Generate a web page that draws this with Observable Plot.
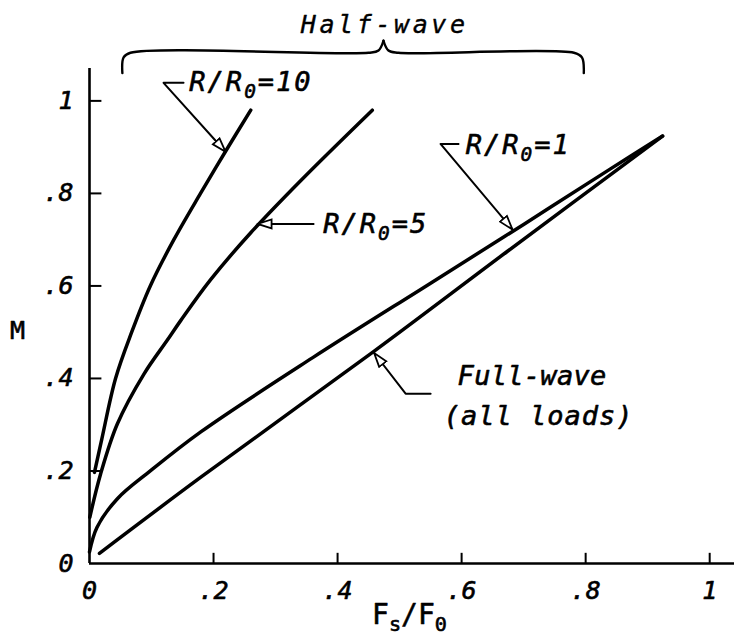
<!DOCTYPE html>
<html>
<head>
<meta charset="utf-8">
<script src="https://cdn.jsdelivr.net/npm/d3@7"></script>
<script src="https://cdn.jsdelivr.net/npm/@observablehq/plot@0.6"></script>
<style>
  body { margin: 0; background: #fff; }
  #chart svg { display: block; }
</style>
</head>
<body>
<div id="chart"></div>
<script>
// Ripple factor M versus Fs/F0 for half-wave (several load ratios) and full-wave rectification.

const xTicks = [0, 0.2, 0.4, 0.6, 0.8, 1];
const xTickLabels = ["0", ".2", ".4", ".6", ".8", "1"];
const yTicks = [0, 0.2, 0.4, 0.6, 0.8, 1];
const yTickLabels = ["0", ".2", ".4", ".6", ".8", "1"];

// [Fs/F0, M] pairs per curve
const halfWaveR10 = [[0.008, 0.197], [0.02, 0.27], [0.042, 0.40], [0.068, 0.50], [0.098, 0.60],
  [0.136, 0.70], [0.179, 0.80], [0.219, 0.89], [0.26, 0.98]];
const halfWaveR5 = [[0.0005, 0.10], [0.018, 0.194], [0.045, 0.302], [0.088, 0.41], [0.125, 0.482],
  [0.147, 0.525], [0.195, 0.613], [0.26, 0.715], [0.34, 0.827], [0.456, 0.98]];
const halfWaveR1 = [[0.0, 0.025], [0.012, 0.078], [0.045, 0.14], [0.098, 0.2], [0.18, 0.285],
  [0.36, 0.445], [0.55, 0.606], [0.7, 0.733], [0.84, 0.853], [0.924, 0.924]];
const fullWave = [[0.016, 0.022], [0.179, 0.186], [0.458, 0.458], [0.674, 0.675], [0.924, 0.924]];

const curveNames = ["R/R0=10", "R/R0=5", "R/R0=1", "Full-wave"];
const curveData = [halfWaveR10, halfWaveR5, halfWaveR1, fullWave];

// Callout labels: text, anchor x, anchor y
const labelTexts = ["R/R_0=10", "R/R_0=5", "R/R_0=1", "Full-wave", "(all loads)"];
const labelX = [0.161, 0.377, 0.6065, 0.5935, 0.571];
const labelY = [1.039, 0.734, 0.903, 0.404, 0.3175];
const labelSpacing = [2, 2, 2, 0.3, 1];

// Leader lines from each label to its curve (last point is the arrow tip)
const leaderR10 = [[0.1516, 1.039], [0.1194, 1.039], [0.2194, 0.89]];
const leaderR5 = [[0.3613, 0.734], [0.271, 0.734]];
const leaderR1 = [[0.595, 0.907], [0.566, 0.907], [0.682, 0.722]];
const leaderFull = [[0.55, 0.367], [0.5097, 0.367], [0.459, 0.455]];

// Brace spanning the half-wave curves
const braceLeft = [[0.053, 1.06], [0.055, 1.094], [0.066, 1.104], [0.45, 1.104], [0.466, 1.109], [0.474, 1.13]];
const braceRight = [[0.474, 1.13], [0.482, 1.109], [0.498, 1.104], [0.781, 1.104], [0.794, 1.094], [0.797, 1.06]];
const braceTitle = "Half-wave";

const curveRows = curveData.flatMap((pts, k) => pts.map(([x, y]) => ({series: curveNames[k], x, y})));
const leaderRows = [leaderR10, leaderR5, leaderR1, leaderFull]
  .flatMap((pts, k) => pts.map(([x, y]) => ({id: k, x, y})));
const braceRows = [braceLeft, braceRight].flatMap((pts, k) => pts.map(([x, y]) => ({id: k, x, y})));
const labels = labelTexts.map((t, i) => ({text: t, x: labelX[i], y: labelY[i]}));

const INK = "#000000";
const LEADER_INK = "#010101";
// a thin outline thickens the lettering to a plotter-pen weight
const pen = {stroke: INK, strokeWidth: 0.6, fill: INK};

const chart = Plot.plot({
  width: 734,
  height: 636,
  marginLeft: 89,
  marginRight: 0,
  marginTop: 68,
  marginBottom: 73,
  x: {domain: [0, 1.04], axis: null},
  y: {domain: [0, 1.07], axis: null},
  style: {fontFamily: "'DejaVu Sans Mono', monospace", background: "white", color: "black"},
  marks: [
    // frame
    Plot.ruleX([0], {y1: 0, y2: 1.07, stroke: INK, strokeWidth: 2.6}),
    Plot.ruleY([0], {x1: 0, x2: 1.04, stroke: INK, strokeWidth: 2.6}),
    // inward ticks
    Plot.ruleX(xTicks.slice(1), {x: d => d, y1: 0, y2: 0.022, stroke: INK, strokeWidth: 2}),
    Plot.ruleY(yTicks.slice(1), {y: d => d, x1: 0, x2: 0.02, stroke: INK, strokeWidth: 2}),
    // tick labels
    Plot.text(xTicks, {x: d => d, y: 0, dy: 27, text: (d, i) => xTickLabels[i],
      fontSize: 25, fontStyle: "italic", textAnchor: "middle", ...pen}),
    Plot.text(yTicks, {x: 0, y: d => d, dx: -16, text: (d, i) => yTickLabels[i],
      fontSize: 25, fontStyle: "italic", textAnchor: "end", ...pen}),
    // axis titles
    Plot.text(["M"], {x: -0.116, y: 0.503, text: d => d, fontSize: 25, textAnchor: "middle", ...pen}),
    Plot.text(["F_s/F_0"], {x: 0.516, y: -0.112, text: d => d, fontSize: 28, textAnchor: "middle", ...pen}),
    // curves
    Plot.line(curveRows, {x: "x", y: "y", z: "series", stroke: INK, strokeWidth: 3.5,
      curve: "catmull-rom", strokeLinecap: "round"}),
    // leaders
    Plot.line(leaderRows, {x: "x", y: "y", z: "id", stroke: LEADER_INK, strokeWidth: 2}),
    // brace and its title
    Plot.line(braceRows, {x: "x", y: "y", z: "id", stroke: INK, strokeWidth: 2.4,
      curve: "catmull-rom"}),
    Plot.text([braceTitle], {x: 0.476, y: 1.164, text: d => d, fontSize: 25, fontStyle: "italic",
      textAnchor: "middle", ...pen, strokeWidth: 0.4}),
    // callout labels
    Plot.text(labels, {x: "x", y: "y", text: "text", fontSize: 27, fontStyle: "italic",
      textAnchor: "start", ...pen})
  ]
});

document.getElementById("chart").append(chart);

const svg = d3.select(chart);

// open triangular arrowhead for the leaders
const defs = svg.insert("defs", ":first-child");
defs.append("marker")
  .attr("id", "open-head")
  .attr("viewBox", "0 -6 16 12")
  .attr("refX", 15)
  .attr("refY", 0)
  .attr("markerWidth", 16)
  .attr("markerHeight", 12)
  .attr("markerUnits", "userSpaceOnUse")
  .attr("orient", "auto")
  .append("path")
  .attr("d", "M1,-4.5L15,0L1,4.5Z")
  .attr("fill", "white")
  .attr("stroke", "black")
  .attr("stroke-width", 1.8);
svg.selectAll("path").filter(function () {
  const g = this.closest("g");
  return g && (g.getAttribute("stroke") || "").toLowerCase() === LEADER_INK;
}).attr("marker-end", "url(#open-head)");

// letter spacing for the lettering
svg.selectAll("text").each(function () {
  const s = this.textContent;
  if (s === braceTitle) d3.select(this).style("letter-spacing", "3.6px");
  const k = labelTexts.indexOf(s);
  if (k >= 0) d3.select(this).style("letter-spacing", labelSpacing[k] + "px");
});

// subscripts: "_" marks the next character as a subscript
svg.selectAll("text").each(function () {
  const s = this.textContent;
  if (!s.includes("_")) return;
  const el = d3.select(this);
  el.text(null);
  const parts = s.split(/(_.)/).filter(p => p.length);
  let lowered = false;
  for (const p of parts) {
    if (p.startsWith("_")) {
      el.append("tspan").attr("dy", "7").attr("font-size", "0.72em").text(p.slice(1));
      lowered = true;
    } else {
      const t = el.append("tspan").text(p);
      if (lowered) { t.attr("dy", "-7"); lowered = false; }
    }
  }
});
</script>
</body>
</html>
